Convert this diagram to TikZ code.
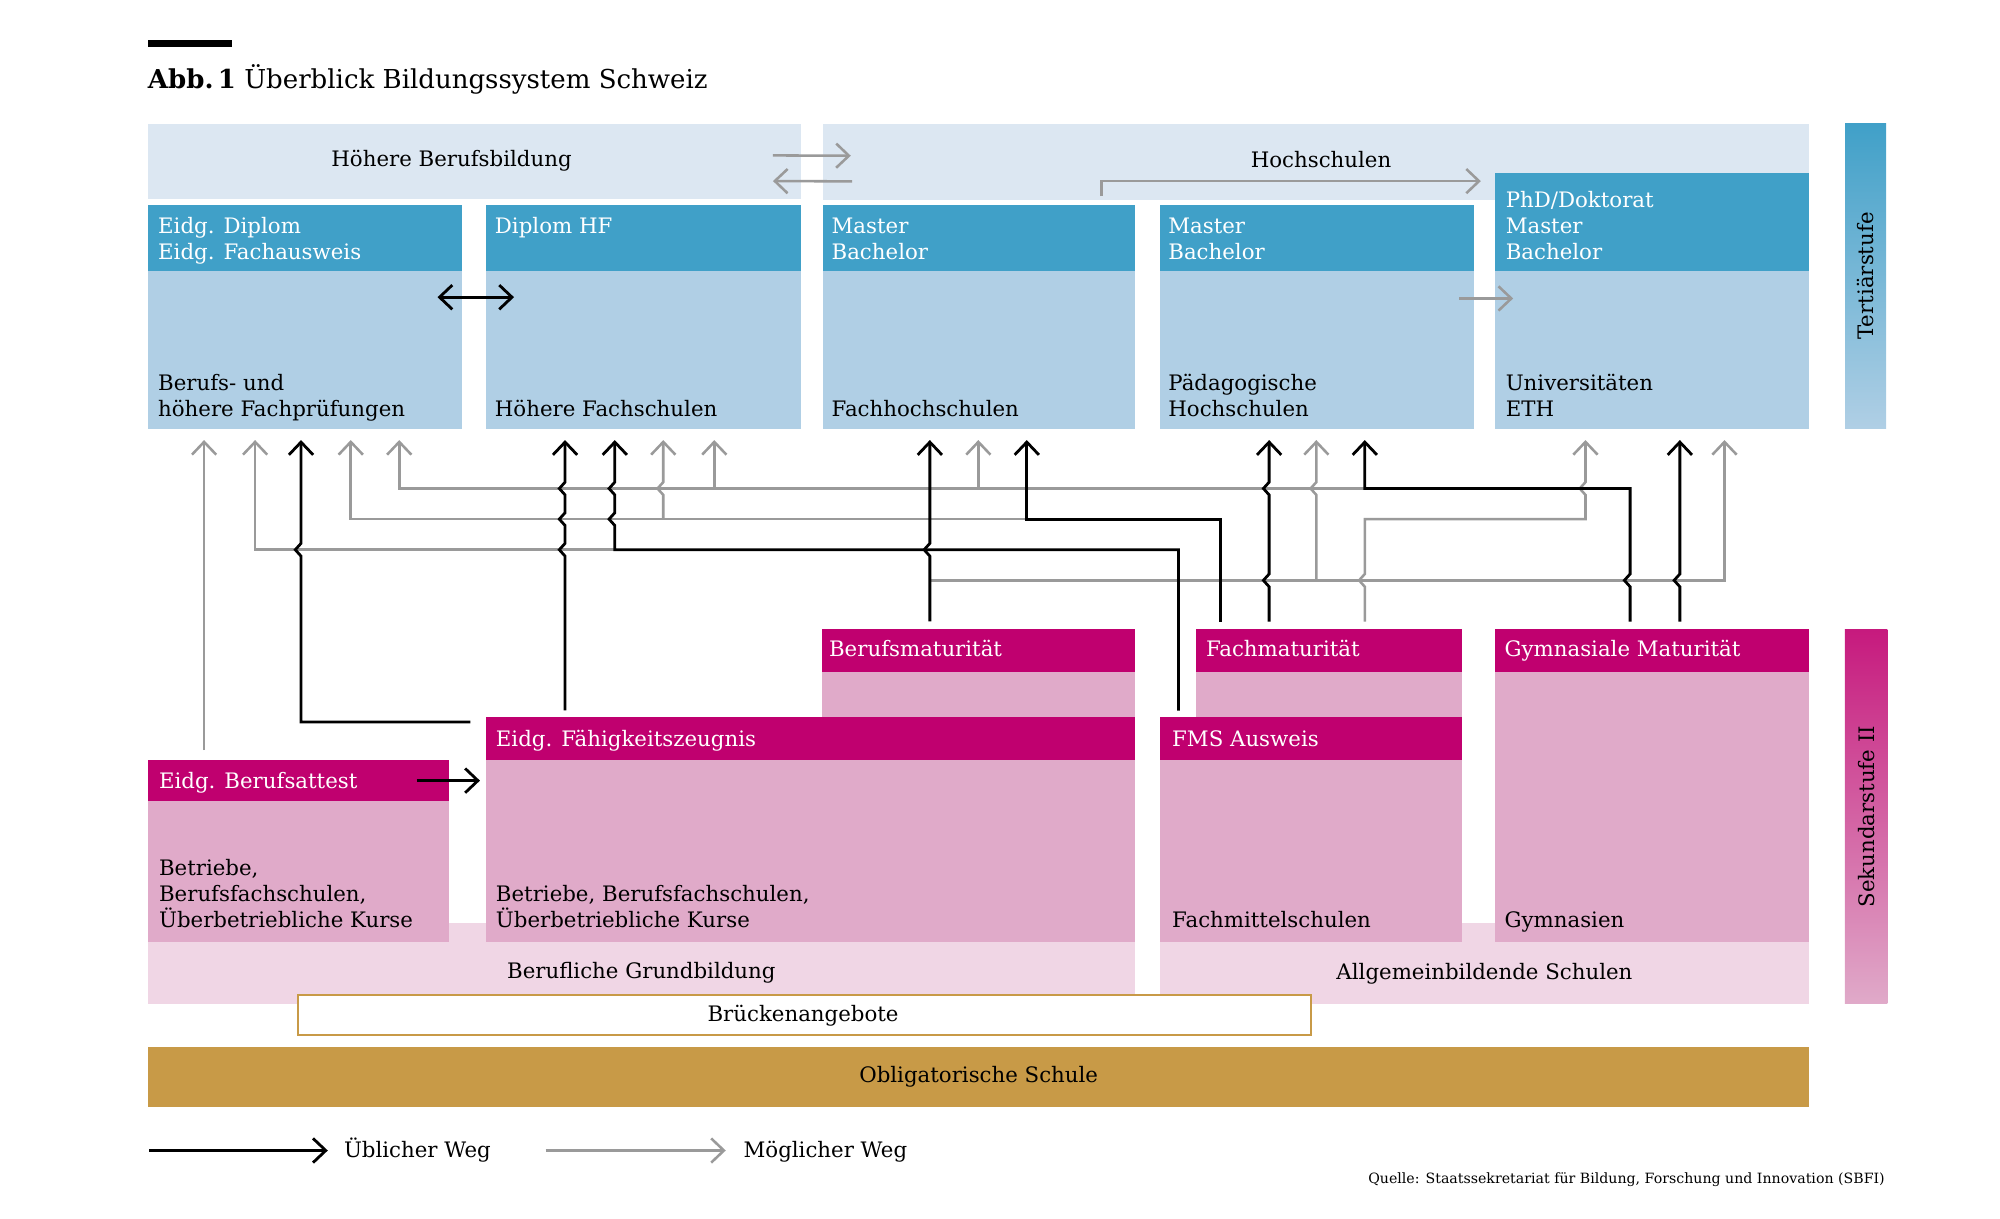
\documentclass[tikz,border=0pt]{standalone}
\usepackage{fontspec}
\setmainfont{DejaVu Serif}
\usepackage{tikz}
\usetikzlibrary{arrows.meta}
\usetikzlibrary{fit}
\usetikzlibrary{calc}

\definecolor{bandblue}{HTML}{DCE7F2}
\definecolor{headblue}{HTML}{40A0C8}
\definecolor{bodyblue}{HTML}{B0CFE5}
\definecolor{headmag}{HTML}{C0006F}
\definecolor{bodypink}{HTML}{E0AAC9}
\definecolor{bandpink}{HTML}{F0D6E5}
\definecolor{gold}{HTML}{C89A47}
\definecolor{arrgray}{HTML}{9A9A9A}

\newcommand{\txt}{\fontsize{16.7}{20.5}\selectfont}
\newcommand{\ttl}{\fontsize{20.4}{25}\selectfont}
% small chevron where a vertical line crosses a level
\newcommand{\hopup}[2]{-- ($(#1 |- #2)+(0,5)$) -- ($(#1 |- #2)+(-4.5,0)$) -- ($(#1 |- #2)+(0,-5)$)}

\begin{document}
\begin{tikzpicture}[x=1pt, y=-1pt, >={Straight Barb[length=10pt,width=19pt]},
	every node/.style={inner sep=0pt, outer sep=0pt},
	hd/.style={fill=headblue}, bd/.style={fill=bodyblue}, bnd/.style={fill=bandblue},
	mh/.style={fill=headmag}, pk/.style={fill=bodypink}, lp/.style={fill=bandpink},
	wt/.style={text=white, anchor=base west, align=left, font=\txt},
	bt/.style={text=black, anchor=base west, align=left, font=\txt},
	must/.style={draw=black, line width=2.2pt, ->, shorten >=9pt},
	may/.style={draw=arrgray, line width=2pt, ->, shorten >=9pt}]
	\useasboundingbox (0,0) rectangle (1568,955);

	% title
	\node[fill=black, fit={(116,31.4)(181.5,36.6)}] (R) {};
	\node[bt, font=\ttl] (TT) at (116,69.3) {\textbf{Abb.\,1} Überblick Bildungssystem Schweiz};

	% tertiary level
	\node[bnd, fit={(116,97)(628,156.3)}] (HB) {};
	\node[bnd, fit={(645,97)(1418,156.8)}] (HS) {};
	\node[hd, fit={(116,161)(362.5,212.5)}] (D1) {};
	\node[bd, fit={(116,212.5)(362.5,336)}] (T1) {};
	\node[hd, fit={(381,161)(628,212.5)}] (D2) {};
	\node[bd, fit={(381,212.5)(628,336)}] (T2) {};
	\node[hd, fit={(645,161)(890,212.5)}] (D3) {};
	\node[bd, fit={(645,212.5)(890,336)}] (T3) {};
	\node[hd, fit={(909.4,161)(1155.3,212.5)}] (D4) {};
	\node[bd, fit={(909.4,212.5)(1155.3,336)}] (T4) {};
	\node[hd, fit={(1172,135.4)(1418,212.5)}] (D5) {};
	\node[bd, fit={(1172,212.5)(1418,336)}] (T5) {};
	\node[fit={(1446.5,96.7)(1478.7,336)}, top color=headblue, bottom color=bodyblue] (TS) {};

	% (multi-line texts sit on the baseline of their last line)
	\node[bt, anchor=base] (hbl) at (354,130.7) {Höhere Berufsbildung};
	\node[bt, anchor=base] (hsl) at (1035.7,131.2) {Hochschulen};
	\node[wt] (d1) at (124,203.3) {Eidg. Diplom\\Eidg. Fachausweis};
	\node[wt] (d2) at (388,182.8) {Diplom HF};
	\node[wt] (d3) at (652,203.3) {Master\\Bachelor};
	\node[wt] (d4) at (916,203.3) {Master\\Bachelor};
	\node[wt] (d5) at (1180.5,203.3) {PhD/Doktorat\\Master\\Bachelor};
	\node[bt] (t1) at (124,326.7) {Berufs- und\\höhere Fachprüfungen};
	\node[bt] (t2) at (388,326.7) {Höhere Fachschulen};
	\node[bt] (t3) at (652,326.7) {Fachhochschulen};
	\node[bt] (t4) at (916,326.7) {Pädagogische\\Hochschulen};
	\node[bt] (t5) at (1180.5,326.7) {Universitäten\\ETH};
	\node[bt, anchor=center, rotate=90] (tsl) at (TS.center) {Tertiärstufe};

	% secondary level
	\node[lp, fit={(116,724)(890,787)}] (BG) {};
	\node[lp, fit={(909.4,724)(1418,787)}] (AS) {};
	\node[mh, fit={(644.3,493.2)(890,527)}] (BM) {};
	\node[pk, fit={(644.3,527)(890,562)}] (BMb) {};
	\node[mh, fit={(937.6,493.4)(1146.4,526.8)}] (FM) {};
	\node[pk, fit={(937.6,526.8)(1146.4,562.2)}] (FMb) {};
	\node[mh, fit={(1172.4,493.4)(1418.4,527)}] (GM) {};
	\node[pk, fit={(1172.4,527)(1418.4,738.5)}] (GMb) {};
	\node[mh, fit={(381.3,562)(890,596)}] (EFZ) {};
	\node[pk, fit={(381.3,596)(890,738.8)}] (EFZb) {};
	\node[mh, fit={(909.6,562.2)(1146.4,596)}] (FMS) {};
	\node[pk, fit={(909.6,596)(1146.4,738.7)}] (FMSb) {};
	\node[mh, fit={(116.3,596)(351.8,628)}] (EBA) {};
	\node[pk, fit={(116.3,628)(351.8,738.8)}] (EBAb) {};
	\node[fit={(1446.4,493.4)(1479.6,787)}, top color=headmag!90!white, bottom color=bodypink] (SK) {};

	\node[wt] (bm) at (650,514.5) {Berufsmaturität};
	\node[wt] (fm) at (945.5,515) {Fachmaturität};
	\node[wt] (gm) at (1179.6,515) {Gymnasiale Maturität};
	\node[wt] (efz) at (388.8,585) {Eidg. Fähigkeitszeugnis};
	\node[wt] (fms) at (919,585.6) {FMS Ausweis};
	\node[wt] (eba) at (124.7,618) {Eidg. Berufsattest};
	\node[bt] (ebab) at (124.7,727) {Betriebe,\\Berufsfachschulen,\\Überbetriebliche Kurse};
	\node[bt] (efzb) at (388.8,727) {Betriebe, Berufsfachschulen,\\Überbetriebliche Kurse};
	\node[bt] (fmsb) at (919,727) {Fachmittelschulen};
	\node[bt] (gmb) at (1179.6,727) {Gymnasien};
	\node[bt, anchor=base] (bgl) at (502.8,767) {Berufliche Grundbildung};
	\node[bt, anchor=base] (asl) at (1163.8,767.8) {Allgemeinbildende Schulen};
	\node[bt, anchor=center, rotate=90] (skl) at (SK.center) {Sekundarstufe II};

	\node[fill=white, draw=gold, line width=1.5pt, fit={(233.8,780)(1027.6,811.5)}] (BR) {};
	\node[fill=gold, fit={(116,820.6)(1418,867.6)}] (OS) {};
	\node[bt, anchor=base] (brl) at (629.6,801) {Brückenangebote};
	\node[bt, anchor=base] (osl) at (767.3,849) {Obligatorische Schule};

	% columns and levels of the connectors
	\foreach \n/\x in {a/160, b/200, c/236, d/275, e/313, f/443, g/482, h/520, i/560, j/729,
		k/767, l/805, m/924, n/957, o/995, p/1032, q/1070, r/1278, s/1317, t/1243, u/1352}
		{\coordinate (\n) at (\x,0);}
	\coordinate (L1) at (0,383);
	\coordinate (L2) at (0,407);
	\coordinate (L3) at (0,431);
	\coordinate (L4) at (0,455);
	\coordinate (e1) at ($(EFZ.north west)+(-12.5,4)$);
	\coordinate (h1) at (863.7,153.7);

	% possible routes
	\draw[may, shorten <=8pt] (EBA.north -| a) -- (T1.south -| a);
	\draw[may] (g |- L3) -- (b |- L3) -- (T1.south -| b);
	\draw[may] (l |- L2) -- (d |- L2) -- (T1.south -| d);
	\draw[may] (h |- L2) \hopup{h}{L1} -- (T2.south -| h);
	\draw[may] (q |- L1) -- (e |- L1) -- (T1.south -| e);
	\draw[may] (i |- L1) -- (T2.south -| i);
	\draw[may] (k |- L1) -- (T3.south -| k);
	\draw[may] (j |- L4) -- (u |- L4) -- (T5.south -| u);
	\draw[may] (p |- L4) \hopup{p}{L1} -- (T4.south -| p);
	\draw[may, shorten <=6pt] (FM.north -| q) \hopup{q}{L4} -- (q |- L2) -- (t |- L2) \hopup{t}{L1} -- (T5.south -| t);

	% usual routes
	\draw[must] (e1) -- (e1 -| c) \hopup{c}{L3} -- (T1.south -| c);
	\draw[must, shorten <=5pt] (EFZ.north -| f) \hopup{f}{L3} \hopup{f}{L2} \hopup{f}{L1} -- (T2.south -| f);
	\draw[must, shorten <=5pt] (FMS.north -| m) -- (m |- L3) -- (g |- L3) \hopup{g}{L2} \hopup{g}{L1} -- (T2.south -| g);
	\draw[must, shorten <=6pt] (BM.north -| j) \hopup{j}{L3} -- (T3.south -| j);
	\draw[must, shorten <=6pt] (FM.north -| n) -- (n |- L2) -- (l |- L2) -- (T3.south -| l);
	\draw[must, shorten <=6pt] (FM.north -| o) \hopup{o}{L4} \hopup{o}{L1} -- (T4.south -| o);
	\draw[must, shorten <=6pt] (GM.north -| r) \hopup{r}{L4} -- (r |- L1) -- (q |- L1) -- (T4.south -| q);
	\draw[must, shorten <=6pt] (GM.north -| s) \hopup{s}{L4} -- (T5.south -| s);

	% arrows inside the levels
	\draw[must, <->, shorten >=0pt] ([xshift=-19.5pt,yshift=-20.5pt]T1.north east) -- ([xshift=22pt,yshift=-20.5pt]T2.north west);
	\draw[may, shorten >=0pt] ([xshift=-11.3pt,yshift=-21.5pt]T4.north east) -- ([xshift=14.3pt,yshift=-21.5pt]T5.north west);
	\draw[must, shorten >=5pt] ([xshift=-25pt]EBA.east) -- (EBA.east -| EFZb.west);
	\draw[may, shorten >=0pt] ([xshift=-22pt,yshift=4.8pt]HB.east) -- ([xshift=22pt,yshift=4.8pt]HS.west);
	\draw[may, shorten >=0pt] ([xshift=23pt,yshift=-15.3pt]HS.west) -- ([xshift=-22pt,yshift=-15.3pt]HB.east);
	\draw[may, shorten >=0pt] (h1) |- ([xshift=-11pt,yshift=-6.6pt]D5.north west);

	% legend and source
	\coordinate (k1) at (117,902);
	\coordinate (k2) at (427.8,902);
	\node[bt] (U) at (269.7,907.6) {Üblicher Weg};
	\node[bt] (M) at (583,907.6) {Möglicher Weg};
	\draw[must, shorten >=12.7pt] (k1) -- (k1 -| U.west);
	\draw[may, shorten >=14pt] (k2) -- (k2 -| M.west);
	\node[bt, anchor=base east, font=\fontsize{11.1}{13}\selectfont] (Q) at (1477.6,927.5) {Quelle: Staatssekretariat für Bildung, Forschung und Innovation (SBFI)};
\end{tikzpicture}
\end{document}
